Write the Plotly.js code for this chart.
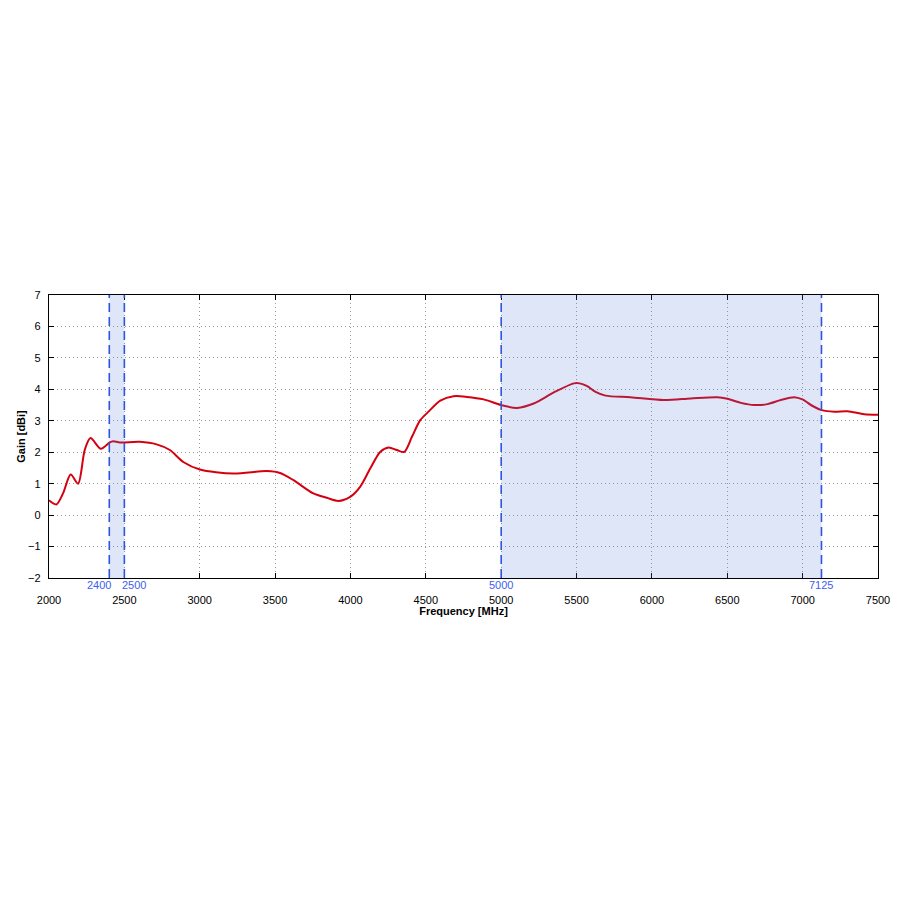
<!DOCTYPE html>
<html>
<head>
<meta charset="utf-8">
<script src="https://cdn.plot.ly/plotly-3.0.1.min.js"></script>
<style>html,body{margin:0;padding:0;background:#fff;}#chart{width:900px;height:900px;}</style>
</head>
<body>
<div id="chart"></div>
<script>
// Frequency in MHz
const freq = [2000, 2049, 2093, 2144, 2193, 2237, 2275, 2344, 2403, 2426, 2470, 2603, 2714, 2802, 2891, 3001, 3223, 3445, 3533, 3622, 3754, 3843, 3920, 3998, 4064, 4131, 4197, 4253, 4308, 4357, 4408, 4463, 4518, 4596, 4684, 4773, 4884, 4999, 5106, 5216, 5349, 5482, 5521, 5571, 5626, 5692, 5858, 6080, 6257, 6435, 6501, 6590, 6678, 6767, 6855, 6944, 6999, 7066, 7126, 7210, 7298, 7408, 7500];
// Gain in dBi
const gain = [0.47, 0.34, 0.69, 1.29, 1.0, 2.07, 2.45, 2.11, 2.31, 2.35, 2.31, 2.33, 2.25, 2.07, 1.69, 1.45, 1.32, 1.40, 1.34, 1.11, 0.69, 0.55, 0.45, 0.58, 0.90, 1.48, 2.01, 2.15, 2.07, 2.01, 2.49, 3.02, 3.29, 3.64, 3.78, 3.76, 3.68, 3.50, 3.41, 3.55, 3.90, 4.19, 4.19, 4.10, 3.92, 3.80, 3.75, 3.66, 3.71, 3.75, 3.70, 3.57, 3.50, 3.53, 3.66, 3.75, 3.68, 3.47, 3.34, 3.29, 3.30, 3.21, 3.19];
// Frequency bands [start, end] in MHz
const bandStart = [2400, 5000];
const bandEnd = [2500, 7125];
const bandEdges = [2400, 2500, 5000, 7125];
const bandEdgeLabels = ["2400", "2500", "5000", "7125"];
const xTicks = [2000, 2500, 3000, 3500, 4000, 4500, 5000, 5500, 6000, 6500, 7000, 7500];
const yTicks = [-2, -1, 0, 1, 2, 3, 4, 5, 6, 7];

const blue = '#2f55e0';
const shapes = [];
for (let i = 0; i < bandStart.length; i++) {
  shapes.push({type: 'rect', xref: 'x', yref: 'paper', x0: bandStart[i], x1: bandEnd[i], y0: 0, y1: 1,
    fillcolor: 'rgba(80,120,220,0.19)', line: {width: 0}, layer: 'above'});
}
bandEdges.forEach(e => shapes.push({type: 'line', xref: 'x', yref: 'paper', x0: e, x1: e, y0: 0, y1: 1,
  line: {color: blue, width: 1.6, dash: '9px,5px'}, layer: 'above'}));

const anchors = ['right', 'left', 'center', 'center'];
const shifts = [4, -4, 0, 0];
const annotations = bandEdges.map((e, i) => ({
  x: e, xref: 'x', y: 0, yref: 'paper', yanchor: 'top', xanchor: anchors[i], xshift: shifts[i], yshift: 1,
  text: bandEdgeLabels[i], showarrow: false, font: {family: 'Liberation Sans, Arial', size: 11, color: '#3d5ef0'}
}));

const trace = {x: freq, y: gain, type: 'scatter', mode: 'lines', line: {color: '#d40010', width: 2, shape: 'spline', smoothing: 0.8}, hoverinfo: 'x+y'};

const axisCommon = {
  showline: true, linecolor: '#000', linewidth: 1.3, mirror: 'ticks',
  ticks: 'inside', ticklen: 5, tickcolor: '#000', tickwidth: 1,
  showgrid: true, gridcolor: '#999', griddash: '1px,3px', gridwidth: 1,
  zeroline: false, tickfont: {family: 'Liberation Sans, Arial', size: 11, color: '#000'}
};

const layout = {
  width: 900, height: 900,
  margin: {l: 49, r: 22, t: 295, b: 322, pad: 0},
  paper_bgcolor: '#fff', plot_bgcolor: '#fff',
  showlegend: false,
  xaxis: Object.assign({}, axisCommon, {range: [2000, 7500], tickvals: xTicks, ticklabelstandoff: 11,
    title: {text: '<b>Frequency [MHz]</b>', font: {family: 'Liberation Sans, Arial', size: 11, color: '#000'}, standoff: 1}}),
  yaxis: Object.assign({}, axisCommon, {range: [-2, 7], tickvals: yTicks, ticklabelstandoff: 5,
    title: {text: '<b>Gain [dBi]</b>', font: {family: 'Liberation Sans, Arial', size: 11, color: '#000'}, standoff: 0}}),
  shapes: shapes,
  annotations: annotations
};

Plotly.newPlot('chart', [trace], layout, {displayModeBar: false, staticPlot: true});
</script>
</body>
</html>
